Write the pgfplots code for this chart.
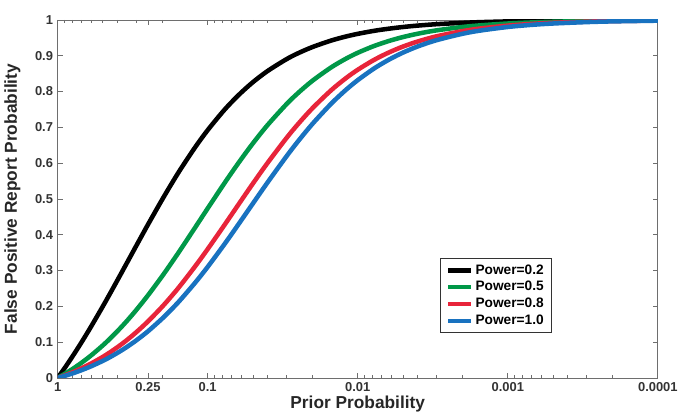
\documentclass[border=0pt]{standalone}
\usepackage{fontspec}
\setmainfont{Liberation Sans}
\usepackage{pgfplots}
\usepackage{pgfplotstable}
\pgfplotsset{compat=1.18}

\definecolor{fgreen}{RGB}{0,152,72}
\definecolor{fred}{RGB}{232,36,58}
\definecolor{fblue}{RGB}{24,114,192}
\definecolor{axgray}{RGB}{110,110,110}

% prior, FPRP for power 0.2 / 0.5 / 0.8 / 1.0
\pgfplotstableread{
prior   pa      pb      pc      pd
1       0       0       0       0
0.9     0.0270  0.0110  0.0069  0.0055
0.8     0.0588  0.0244  0.0154  0.0123
0.7     0.0968  0.0411  0.0261  0.0210
0.6     0.1429  0.0625  0.0400  0.0323
0.5     0.2000  0.0909  0.0588  0.0476
0.45    0.2340  0.1089  0.0710  0.0576
0.4     0.2727  0.1304  0.0857  0.0698
0.35    0.3171  0.1566  0.1040  0.0850
0.3     0.3684  0.1892  0.1273  0.1045
0.25    0.4286  0.2308  0.1579  0.1304
0.2     0.5000  0.2857  0.2000  0.1667
0.17    0.5497  0.3281  0.2338  0.1962
0.15    0.5862  0.3617  0.2615  0.2208
0.12    0.6471  0.4231  0.3143  0.2683
0.1     0.6923  0.4737  0.3600  0.3103
0.08    0.7419  0.5349  0.4182  0.3651
0.07    0.7686  0.5706  0.4537  0.3991
0.06    0.7966  0.6104  0.4947  0.4393
0.05    0.8261  0.6552  0.5429  0.4872
0.04    0.8571  0.7059  0.6000  0.5455
0.03    0.8899  0.7638  0.6690  0.6178
0.025   0.9070  0.7959  0.7091  0.6610
0.02    0.9245  0.8305  0.7538  0.7101
0.015   0.9426  0.8678  0.8041  0.7665
0.012   0.9537  0.8917  0.8373  0.8046
0.01    0.9612  0.9083  0.8609  0.8319
0.008   0.9688  0.9254  0.8857  0.8611
0.007   0.9726  0.9341  0.8986  0.8764
0.006   0.9764  0.9431  0.9119  0.8923
0.005   0.9803  0.9522  0.9256  0.9087
0.004   0.9842  0.9614  0.9396  0.9257
0.003   0.9881  0.9708  0.9541  0.9432
0.002   0.9920  0.9804  0.9689  0.9615
0.0015  0.9940  0.9852  0.9765  0.9708
0.001   0.9960  0.9901  0.9842  0.9804
0.0007  0.9972  0.9930  0.9889  0.9862
0.0005  0.9980  0.9950  0.9921  0.9901
0.0003  0.9988  0.9970  0.9952  0.9940
0.0002  0.9992  0.9980  0.9968  0.9960
0.0001  0.9996  0.9990  0.9984  0.9980
}\fprp

\begin{document}
\begin{tikzpicture}
\begin{axis}[
    scale only axis,
    width=451pt,
    height=269pt,
    xmode=log,
    x dir=reverse,
    xmin=1e-4, xmax=1,
    ymin=0, ymax=1,
    xtick={1,0.25,0.1,0.01,0.001,0.0001},
    xticklabels={1,0.25,0.1,0.01,0.001,0.0001},
    minor xtick={0.9,0.8,0.7,0.6,0.5,0.4,0.3,0.2,
        0.09,0.08,0.07,0.06,0.05,0.04,0.03,0.02,
        0.009,0.008,0.007,0.006,0.005,0.004,0.003,0.002,
        0.0009,0.0008,0.0007,0.0006,0.0005,0.0004,0.0003,0.0002},
    ytick={0,0.1,0.2,0.3,0.4,0.5,0.6,0.7,0.8,0.9,1},
    yticklabels={0,0.1,0.2,0.3,0.4,0.5,0.6,0.7,0.8,0.9,1},
    tick align=inside,
    major tick length=4pt,
    minor tick length=2.5pt,
    tick style={axgray, line width=0.5pt},
    axis line style={axgray, line width=0.6pt},
    ticklabel style={font=\bfseries\fontsize{9.7}{11}\selectfont, text=black!80},
    xlabel={Prior Probability},
    ylabel={False Positive Report Probability},
    label style={font=\bfseries\fontsize{13}{15}\selectfont, text=black!85},
    xlabel style={yshift=4pt},
    ylabel style={yshift=4pt},
    legend cell align=left,
    legend style={
        at={(0.824,0.125)}, anchor=south east,
        draw=black!80, line width=0.7pt,
        font=\bfseries\fontsize{10.3}{11}\selectfont,
        row sep=0pt, inner xsep=4pt, inner ysep=2.5pt
    },
    legend image code/.code={\draw[#1] (0pt,0pt) -- (17pt,0pt);},
]
\addplot[black, line width=3.4pt, smooth] table[x=prior, y=pa] {\fprp};
\addlegendentry{Power=0.2}
\addplot[fgreen, line width=3.4pt, smooth] table[x=prior, y=pb] {\fprp};
\addlegendentry{Power=0.5}
\addplot[fred, line width=3.4pt, smooth] table[x=prior, y=pc] {\fprp};
\addlegendentry{Power=0.8}
\addplot[fblue, line width=3.4pt, smooth] table[x=prior, y=pd] {\fprp};
\addlegendentry{Power=1.0}
\end{axis}
\path ([yshift=15pt]current axis.north);
\end{tikzpicture}
\end{document}
